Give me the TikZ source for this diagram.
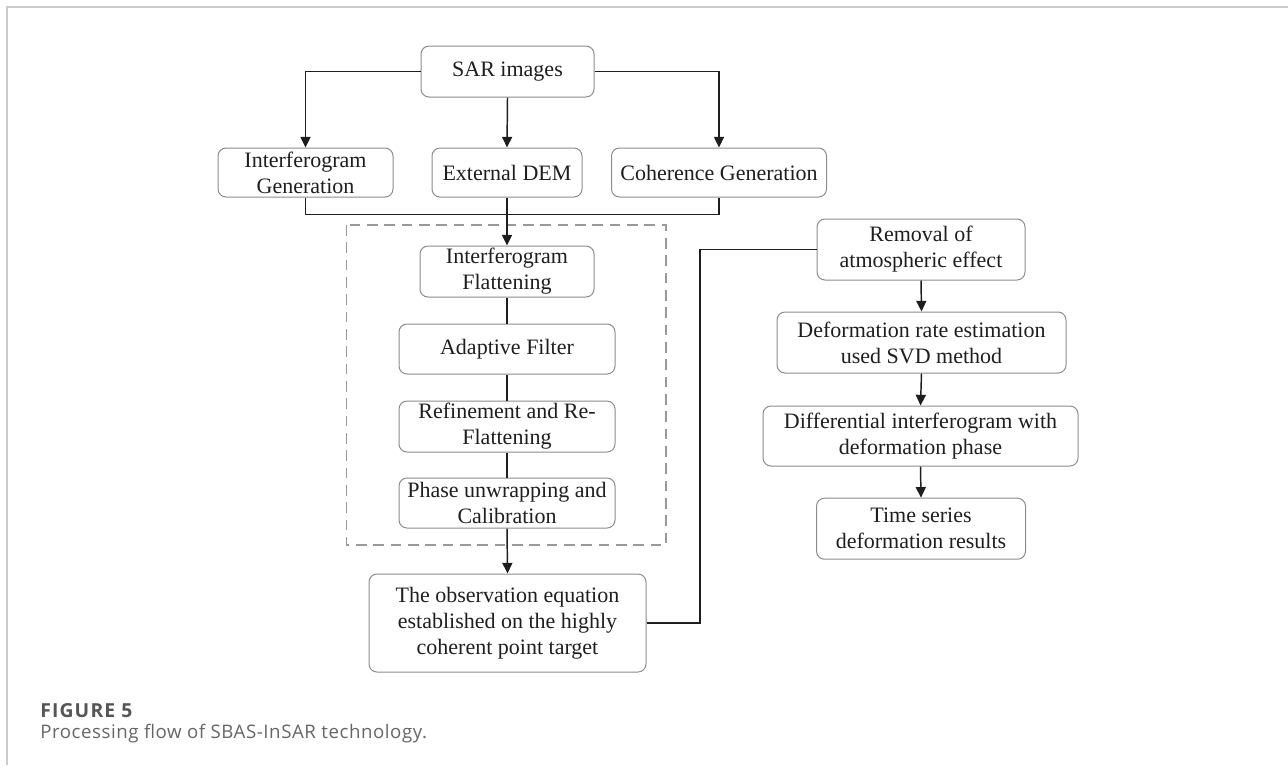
\documentclass[tikz,border=0pt]{standalone}
\usepackage{fontspec}
\setmainfont{Liberation Serif}
\newfontfamily\capfont[LetterSpace=3]{Open Sans}
\newfontfamily\caplabfont[LetterSpace=6]{Open Sans}
\usetikzlibrary{arrows.meta}
\definecolor{boxgray}{HTML}{8C8C8C}
\definecolor{dashgray}{HTML}{999999}
\definecolor{framegray}{HTML}{CCCCCC}
\definecolor{linecol}{HTML}{1E1E1E}
\definecolor{capdark}{HTML}{555555}
\definecolor{caplight}{HTML}{666666}
\tikzset{
  pbox/.style 2 args={draw=boxgray, line width=0.75pt, rounded corners=6pt,
    align=center, inner sep=0pt, text=linecol,
    minimum width=#1*0.75pt, minimum height=#2*0.75pt,
    font=\fontsize{16.5}{19.5}\selectfont},
  conn/.style={draw=linecol, line width=1.1pt},
  arr/.style={conn, -{Triangle[length=8pt,width=7.5pt]}},
}
\begin{document}
\begin{tikzpicture}[x=0.75pt,y=-0.75pt]
\useasboundingbox (0,0) rectangle (1288,765);
% frame
\draw[framegray, line width=1.2pt] (7,765) -- (7,7) -- (1288,7);
% nodes
\node[pbox={173}{51}] (sar) at (507.5,71.5) {SAR images};
\node[pbox={175}{49}] (ig) at (305.5,172.5) {Interferogram\\Generation};
\node[pbox={150}{49}] (dem) at (507,172.5) {External DEM};
\node[pbox={215}{49}] (coh) at (719,172.5) {Coherence Generation};
\draw[dashgray, line width=1.1pt, dash pattern=on 8pt off 5pt] (346.5,225) rectangle (666,545);
\node[pbox={174}{51}] (iff) at (507,271.5) {Interferogram\\Flattening};
\node[pbox={216}{50}] (af) at (507,349) {Adaptive Filter};
\node[pbox={216}{51}] (ref) at (507,426.5) {Refinement and Re-\\Flattening};
\node[pbox={216}{50}] (pu) at (507,503) {Phase unwrapping and\\Calibration};
\node[pbox={277}{98}] (obs) at (507.5,623) {The observation equation\\established on the highly\\coherent point target};
\node[pbox={208}{61}] (rem) at (921,249.5) {Removal of\\atmospheric effect};
\node[pbox={289}{61}] (dr) at (921.5,342.5) {Deformation rate estimation\\used SVD method};
\node[pbox={315}{60}] (diff) at (920.5,436) {Differential interferogram with\\deformation phase};
\node[pbox={209}{61}] (ts) at (921,528.7) {Time series\\deformation results};
\coordinate (j) at (507,214.5);
\coordinate (k) at (700,249.5);
% connectors
\draw[arr] (sar.west) -| (ig.north);
\draw[arr] (sar.south) -- (dem.north);
\draw[arr] (sar.east) -| (coh.north);
\draw[conn] (ig.south) |- (j) -| (coh.south);
\draw[arr] (dem.south) -- (iff.north);
\draw[conn] (iff.south) -- (af.north);
\draw[conn] (af.south) -- (ref.north);
\draw[conn] (ref.south) -- (pu.north);
\draw[arr] (pu.south) -- (obs.north);
\draw[conn] (obs.east) -| (k) -- (rem.west);
\draw[arr] (rem.south) -- (dr.north);
\draw[arr] (dr.south) -- (diff.north);
\draw[arr] (diff.south) -- (ts.north);
% caption
\node[anchor=base west, inner sep=0pt, text=capdark, font=\caplabfont\bfseries\fontsize{14.5}{17}\selectfont] (figlab) at (40,717) {FIGURE 5};
\node[anchor=base west, inner sep=0pt, text=caplight, font=\capfont\fontsize{14}{17}\selectfont] (figcap) at (40,738) {Processing flow of SBAS-InSAR technology.};
\end{tikzpicture}
\end{document}
